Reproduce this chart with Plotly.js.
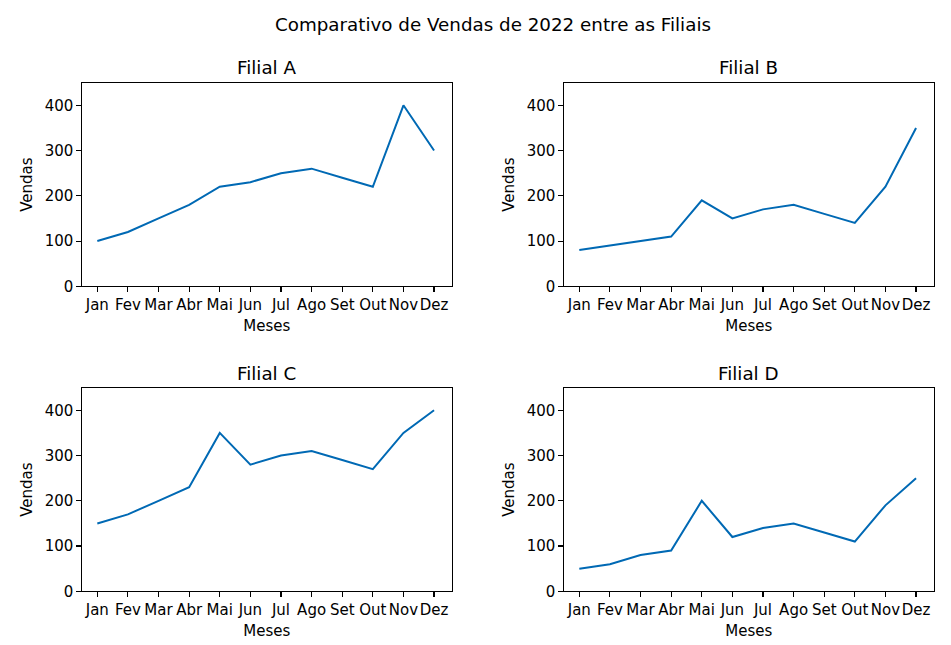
<!DOCTYPE html>
<html>
<head>
<meta charset="utf-8">
<script src="https://cdn.plot.ly/plotly-3.0.1.min.js"></script>
<style>html,body{margin:0;padding:0;background:#fff;}#chart{width:951px;height:645px;}</style>
</head>
<body>
<div id="chart"></div>
<script>
const meses = ["Jan","Fev","Mar","Abr","Mai","Jun","Jul","Ago","Set","Out","Nov","Dez"];
const filialA = [100,120,150,180,220,230,250,260,240,220,400,300];
const filialB = [80,90,100,110,190,150,170,180,160,140,220,350];
const filialC = [150,170,200,230,350,280,300,310,290,270,350,400];
const filialD = [50,60,80,90,200,120,140,150,130,110,190,250];
const nomes = ["Filial A","Filial B","Filial C","Filial D"];
const series = [filialA, filialB, filialC, filialD];

const W = 951, H = 645;
const xdoms = [[82/W, 451.5/W],[564/W, 933.5/W]];
const ydoms = [[1-286.3/H, 1-83/H],[1-591.3/H, 1-388/H]];
const font = {family: "DejaVu Sans, sans-serif", color: "#000"};
const lineColor = "#0069b4";
const tickSize = 15, titleSize = 18.3;

const data = [];
const layout = {
  width: W, height: H,
  margin: {l:0, r:0, t:0, b:0},
  paper_bgcolor: "#fff", plot_bgcolor: "#fff",
  showlegend: false,
  font: Object.assign({size: tickSize}, font),
  title: {text: "Comparativo de Vendas de 2022 entre as Filiais", x: 493/W, xanchor: "center", y: 1-25/H, yanchor: "middle", font: Object.assign({size: titleSize}, font)},
  annotations: []
};

series.forEach((vals, i) => {
  const n = i + 1;
  const col = i % 2, row = Math.floor(i / 2);
  const sfx = n === 1 ? "" : String(n);
  data.push({
    x: meses.map((m, k) => k), y: vals,
    type: "scatter", mode: "lines",
    line: {color: lineColor, width: 2},
    xaxis: "x" + sfx, yaxis: "y" + sfx,
    hoverinfo: "skip"
  });
  layout["xaxis" + sfx] = {
    domain: xdoms[col], anchor: "y" + sfx,
    range: [-0.5, 11.57], tickmode: "array",
    tickvals: meses.map((m, k) => k), ticktext: meses,
    tickangle: 0,
    showgrid: false, zeroline: false,
    showline: true, mirror: true, linecolor: "#000", linewidth: 1.1,
    ticks: "outside", ticklen: 4.5, tickwidth: 1.1, tickcolor: "#000",
    tickfont: Object.assign({size: tickSize}, font),
    title: {text: "Meses", font: Object.assign({size: tickSize}, font), standoff: 7}
  };
  layout["yaxis" + sfx] = {
    domain: ydoms[row], anchor: "x" + sfx,
    range: [0, 449.3], tickmode: "array", tickvals: [0,100,200,300,400],
    showgrid: false, zeroline: false,
    showline: true, mirror: true, linecolor: "#000", linewidth: 1.1,
    ticks: "outside", ticklen: 4.5, tickwidth: 1.1, tickcolor: "#000",
    tickfont: Object.assign({size: tickSize}, font),
    title: {text: "Vendas", font: Object.assign({size: tickSize}, font), standoff: 8}
  };
  layout.annotations.push({
    text: nomes[i], showarrow: false,
    xref: "paper", yref: "paper",
    x: (xdoms[col][0] + xdoms[col][1]) / 2, xanchor: "center",
    y: ydoms[row][1] + 15/H, yanchor: "middle",
    font: Object.assign({size: titleSize}, font)
  });
});

Plotly.newPlot("chart", data, layout, {staticPlot: true, displayModeBar: false});
</script>
</body>
</html>
